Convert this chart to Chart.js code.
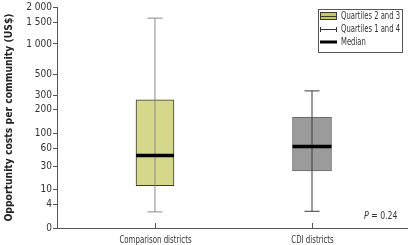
<!DOCTYPE html>
<html>
<head>
<meta charset="utf-8">
<script src="https://cdn.jsdelivr.net/npm/chart.js@4.4.0/dist/chart.umd.min.js"></script>
<style>
  html, body { margin: 0; padding: 0; background: #fff; }
  #wrap { width: 408px; height: 245px; }
</style>
</head>
<body>
<div id="wrap"><canvas id="box-chart"></canvas></div>
<script>
const categories = ['Comparison districts', 'CDI districts'];
const whiskerLow = [2.7, 2.8];
const quartile1 = [13, 26];
const medians = [48, 65];
const quartile3 = [270, 167];
const whiskerHigh = [1630, 345];
const yTickValues = [0, 4, 10, 30, 60, 100, 200, 300, 500, 1000, 1500, 2000];
const legendLabels = ['Quartiles 2 and 3', 'Quartiles 1 and 4', 'Median'];
const pValueText = ['P', ' = 0.24'];

const fontFamily = "'Liberation Sans Narrow', 'DejaVu Sans Condensed', sans-serif";
Chart.defaults.font.family = fontFamily;
Chart.defaults.color = '#333';

// the y axis of the original is neither linear nor log, so each tick gets its own spot
const axisBreaks = [[0, 0], [4, 0.108], [10, 0.176], [30, 0.279], [60, 0.360], [100, 0.428],
  [200, 0.536], [300, 0.599], [500, 0.694], [1000, 0.833], [1500, 0.932], [2000, 1]];

function toFraction(v) {
  for (let i = 0; i < axisBreaks.length - 1; i++) {
    const [v0, f0] = axisBreaks[i];
    const [v1, f1] = axisBreaks[i + 1];
    if (v <= v1) {
      return f0 + (Math.max(v, v0) - v0) / (v1 - v0) * (f1 - f0);
    }
  }
  return 1;
}

function fromFraction(f) {
  for (let i = 0; i < axisBreaks.length - 1; i++) {
    const [v0, f0] = axisBreaks[i];
    const [v1, f1] = axisBreaks[i + 1];
    if (f <= f1) {
      return v0 + (f - f0) / (f1 - f0) * (v1 - v0);
    }
  }
  return 2000;
}

class BrokenScale extends Chart.LinearScale {
  buildTicks() {
    return yTickValues.map(v => ({ value: v }));
  }
  getPixelForValue(value) {
    return this.getPixelForDecimal(toFraction(value));
  }
  getValueForPixel(pixel) {
    return fromFraction(this.getDecimalForPixel(pixel));
  }
}
BrokenScale.id = 'broken';
BrokenScale.defaults = {};
Chart.register(BrokenScale);

function formatThousands(v) {
  return String(v).replace(/\B(?=(\d{3})+(?!\d))/g, ' ');
}

const boxFill = ['#d5d78b', '#9b9b9b'];
const boxBorder = ['#3c3c2c', '#6a6a6a'];
const whiskerColor = ['#8a8a8a', '#3a3a3a'];

const datasets = [];
categories.forEach((cat, i) => {
  datasets.push({
    type: 'bar',
    label: cat + ' box',
    data: [{ x: i, y: [quartile1[i], quartile3[i]] }],
    backgroundColor: boxFill[i],
    borderColor: boxBorder[i],
    borderWidth: 1,
    borderSkipped: false,
    barThickness: i === 0 ? 38 : 39,
    grouped: false,
    order: 4
  });
  datasets.push({
    type: 'line',
    label: cat + ' whisker',
    data: [{ x: i, y: whiskerLow[i] }, { x: i, y: whiskerHigh[i] }],
    borderColor: whiskerColor[i],
    borderWidth: 1,
    pointRadius: 0,
    order: 3
  });
  datasets.push({
    type: 'scatter',
    label: cat + ' caps',
    data: [{ x: i, y: whiskerLow[i] }, { x: i, y: whiskerHigh[i] }],
    pointStyle: 'line',
    pointRadius: 7.5,
    pointBorderWidth: 1,
    pointBorderColor: whiskerColor[i],
    order: 2
  });
  datasets.push({
    type: 'scatter',
    label: cat + ' median',
    data: [{ x: i, y: medians[i] }],
    pointStyle: 'line',
    pointRadius: i === 0 ? 19 : 19.5,
    pointBorderWidth: 3.5,
    pointBorderColor: '#000',
    order: 1
  });
});

const decorPlugin = {
  id: 'decor',
  afterDraw(chart) {
    const ctx = chart.ctx;
    const x = chart.scales.x;
    const area = chart.chartArea;
    ctx.save();
    // category ticks point up into the plot, labels squeezed like the condensed original
    ctx.strokeStyle = '#555';
    ctx.lineWidth = 1;
    ctx.fillStyle = '#333';
    ctx.font = '10px ' + fontFamily;
    ctx.textAlign = 'center';
    ctx.textBaseline = 'middle';
    categories.forEach((c, i) => {
      const px = Math.round(x.getPixelForValue(i)) + 0.5;
      ctx.beginPath();
      ctx.moveTo(px, area.bottom - 5);
      ctx.lineTo(px, area.bottom);
      ctx.stroke();
      const w = ctx.measureText(c).width;
      ctx.fillText(c, px, area.bottom + 12, w * 0.78);
    });

    // legend
    const lx = 318.5, ly = 9.5, lw = 84, lh = 43;
    ctx.strokeStyle = '#555';
    ctx.strokeRect(lx, ly, lw, lh);
    const rows = [16, 29, 42];
    const ix = 320, iw = 17;
    // box swatch
    ctx.fillStyle = '#c6c85c';
    ctx.fillRect(ix, 12, iw, 8);
    ctx.strokeStyle = '#3c3c2c';
    ctx.strokeRect(ix + 0.5, 12.5, iw - 1, 7);
    ctx.beginPath();
    ctx.moveTo(ix, 16.5);
    ctx.lineTo(ix + iw, 16.5);
    ctx.stroke();
    // whisker
    ctx.strokeStyle = '#333';
    ctx.beginPath();
    ctx.moveTo(ix, 29.5);
    ctx.lineTo(ix + iw, 29.5);
    ctx.moveTo(ix + 0.5, 27);
    ctx.lineTo(ix + 0.5, 32);
    ctx.moveTo(ix + iw - 0.5, 27);
    ctx.lineTo(ix + iw - 0.5, 32);
    ctx.stroke();
    // median
    ctx.strokeStyle = '#000';
    ctx.lineWidth = 3;
    ctx.beginPath();
    ctx.moveTo(ix, 42);
    ctx.lineTo(ix + iw, 42);
    ctx.stroke();

    ctx.fillStyle = '#333';
    ctx.font = '10px ' + fontFamily;
    ctx.textAlign = 'left';
    legendLabels.forEach((t, i) => {
      const w = ctx.measureText(t).width;
      ctx.fillText(t, 341, rows[i], w * 0.76);
    });

    // p value
    ctx.font = 'italic 11px ' + fontFamily;
    const pw = ctx.measureText(pValueText[0]).width * 0.8;
    ctx.fillText(pValueText[0], 364, 216, pw);
    ctx.font = '11px ' + fontFamily;
    const rw = ctx.measureText(pValueText[1]).width * 0.78;
    ctx.fillText(pValueText[1], 364 + pw, 216, rw);
    ctx.restore();
  }
};

new Chart(document.querySelector('#box-chart').getContext('2d'), {
  data: { datasets },
  options: {
    responsive: true,
    maintainAspectRatio: false,
    animation: false,
    layout: { autoPadding: false, padding: { top: 6, right: 1, left: 0, bottom: 0 } },
    plugins: {
      legend: { display: false },
      tooltip: { enabled: false }
    },
    scales: {
      x: {
        type: 'linear',
        min: -0.624,
        max: 1.605,
        offset: false,
        afterBuildTicks: axis => { axis.ticks = categories.map((c, i) => ({ value: i })); },
        afterFit: axis => { axis.height = 17; },
        ticks: { display: false },
        grid: { display: false },
        border: { display: true, color: '#555', width: 1 }
      },
      y: {
        type: 'broken',
        min: 0,
        max: 2000,
        afterFit: axis => { axis.width = 57; },
        ticks: {
          autoSkip: false,
          callback: v => formatThousands(v),
          font: { size: 10 },
          color: '#333',
          padding: 1
        },
        grid: { display: true, drawOnChartArea: false, drawTicks: true, tickLength: 4, color: '#555' },
        border: { display: true, color: '#555', width: 1 },
        title: {
          display: true,
          text: 'Opportunity costs per community (US$)',
          font: { size: 10.3, weight: 'bold' },
          color: '#222',
          padding: { top: 3, bottom: 0 }
        }
      }
    }
  },
  plugins: [decorPlugin]
});
</script>
</body>
</html>
